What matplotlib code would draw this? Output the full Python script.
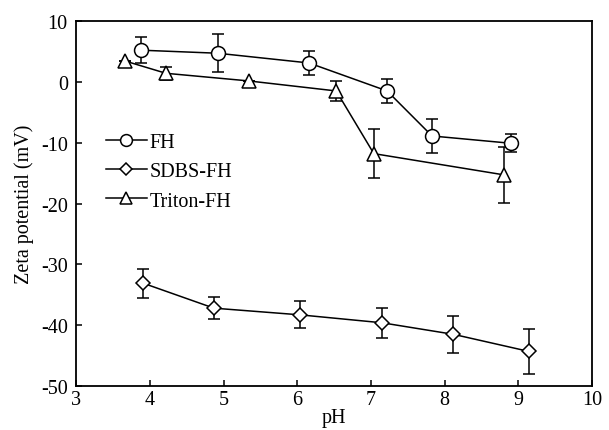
import numpy as np
import matplotlib.pyplot as plt

plt.rcParams['font.family'] = ['Liberation Serif', 'DejaVu Serif']
plt.rcParams['font.size'] = 14.5
plt.rcParams['axes.unicode_minus'] = False

# FH
fh_ph = [3.88, 4.92, 6.16, 7.22, 7.83, 8.90]
fh_zeta = [5.2, 4.7, 3.1, -1.5, -8.9, -10.1]
fh_err = [2.1, 3.15, 1.95, 2.0, 2.8, 1.5]

# SDBS-FH
sdbs_ph = [3.91, 4.87, 6.04, 7.15, 8.12, 9.14]
sdbs_zeta = [-33.1, -37.2, -38.3, -39.6, -41.5, -44.3]
sdbs_err = [2.4, 1.8, 2.2, 2.45, 3.0, 3.7]

# Triton-FH
tri_ph = [3.67, 4.22, 5.34, 6.53, 7.04, 8.81]
tri_zeta = [3.4, 1.4, 0.15, -1.5, -11.8, -15.3]
tri_err = [0, 1.04, 0, 1.7, 4.0, 4.65]

fig = plt.figure(figsize=(6.09, 4.31), dpi=100)
ax = fig.add_axes([0.125, 0.102, 0.847, 0.847])

style = dict(color='black', lw=1.1, mfc='white', mec='black', mew=1.1,
             ecolor='black', elinewidth=1.1, capsize=4, capthick=1.1)
ax.errorbar(fh_ph, fh_zeta, yerr=fh_err, marker='o', ms=10, label='FH', **style)
ax.errorbar(sdbs_ph, sdbs_zeta, yerr=sdbs_err, marker='D', ms=7, label='SDBS-FH', **style)
ax.errorbar(tri_ph, tri_zeta, yerr=tri_err, marker='^', ms=10, label='Triton-FH', **style)

ax.set_xlim(3, 10)
ax.set_ylim(-50, 10)
ax.set_xticks(range(3, 11))
ax.set_yticks(range(-50, 11, 10))
ax.tick_params(direction='in', length=4, width=1.1, top=False, right=False)
ax.tick_params(axis='x', pad=3)
ax.tick_params(axis='y', pad=6)
for s in ax.spines.values():
    s.set_linewidth(1.3)

ax.set_xlabel('pH', labelpad=-1)
ax.set_ylabel('Zeta potential (mV)', labelpad=5)

handles, labels = ax.get_legend_handles_labels()
handles = [h[0] for h in handles]
ax.legend(handles, labels, loc='upper left', bbox_to_anchor=(0.043, 0.715),
          frameon=False, handlelength=2.0, handletextpad=0.15,
          labelspacing=0.5, borderaxespad=0, markerscale=0.85)

fig.savefig('out.png', dpi=100)
